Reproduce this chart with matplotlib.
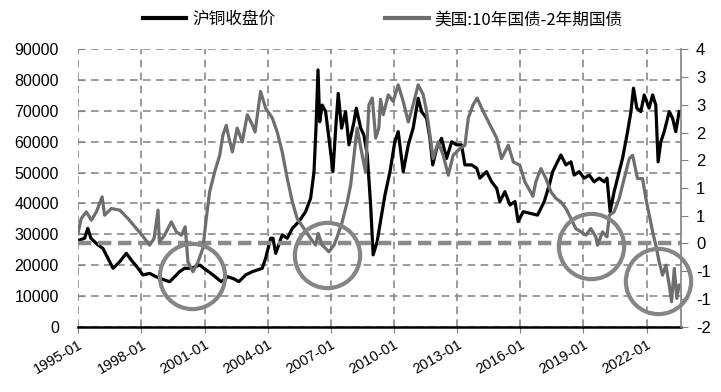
import matplotlib
matplotlib.use("Agg")
import matplotlib.pyplot as plt

plt.rcParams['font.family'] = ['Liberation Sans', 'DejaVu Sans']

# ---- data (decimal years) ----
copper_t = [1995.0, 1995.3, 1995.45, 1995.6, 1995.94, 1996.17, 1996.41, 1996.65, 1996.97, 1997.28,
            1997.52, 1997.84, 1998.07, 1998.39, 1998.7, 1999.1, 1999.34, 1999.58, 1999.81, 2000.05,
            2000.37, 2000.77, 2001.08, 2001.4, 2001.79, 2002.11, 2002.4, 2002.63, 2002.95, 2003.27,
            2003.74, 2003.9, 2004.14, 2004.25, 2004.38, 2004.69, 2004.93, 2005.17, 2005.48, 2005.8,
            2006.04, 2006.2, 2006.3, 2006.39, 2006.47, 2006.59, 2006.75, 2006.91, 2007.1, 2007.23,
            2007.35, 2007.51, 2007.7, 2007.86, 2008.1, 2008.21, 2008.42, 2008.57, 2008.73, 2008.89,
            2009.01, 2009.2, 2009.33, 2009.57, 2009.81, 2010.04, 2010.2, 2010.44, 2010.68, 2010.91,
            2011.15, 2011.31, 2011.55, 2011.71, 2011.84, 2012.03, 2012.26, 2012.5, 2012.74, 2012.98,
            2013.21, 2013.37, 2013.69, 2013.93, 2014.08, 2014.4, 2014.64, 2014.88, 2015.03, 2015.27,
            2015.51, 2015.75, 2015.9, 2016.14, 2016.46, 2016.82, 2017.14, 2017.38, 2017.54, 2017.77,
            2017.93, 2018.17, 2018.41, 2018.56, 2018.8, 2019.04, 2019.28, 2019.51, 2019.75, 2019.99,
            2020.12, 2020.27, 2020.46, 2020.7, 2020.86, 2021.1, 2021.26, 2021.38, 2021.54, 2021.73,
            2021.89, 2022.12, 2022.29, 2022.44, 2022.55, 2022.68, 2022.84, 2023.08, 2023.24, 2023.39,
            2023.55]
copper_v = [28000, 28700, 31900, 28700, 26500, 25400, 22200, 18950, 21100, 23800,
            21600, 18950, 16800, 17300, 16200, 15150, 14600, 16200, 17850, 18950,
            18950, 20000, 18400, 16800, 14600, 16200, 15500, 14600, 16800, 17850,
            18950, 22200, 28700, 28700, 23800, 29800, 28700, 31900, 34100, 37300,
            41700, 50300, 65500, 83300, 66500, 71900, 69800, 61100, 50300, 64400,
            75700, 64400, 69800, 59000, 66500, 70900, 64400, 62200, 55700, 39500,
            23300, 27600, 33000, 42700, 50300, 60000, 63300, 50300, 59000, 64400,
            74100, 69800, 67600, 61100, 52500, 57900, 61100, 54600, 60000, 59000,
            59000, 52500, 52500, 51400, 48200, 50300, 47000, 44900, 40600, 43800,
            39500, 40600, 34100, 37300, 36800, 36200, 40600, 46000, 50300, 53500,
            55700, 52500, 53500, 49200, 50300, 48200, 49200, 47000, 48200, 47000,
            48200, 37300, 43800, 50300, 54600, 63300, 69800, 77400, 70900, 69800,
            75200, 70900, 75200, 71900, 53500, 60000, 63300, 69800, 67600, 63300,
            69800]

spread_t = [1995.0, 1995.14, 1995.38, 1995.62, 1995.86, 1996.13, 1996.25, 1996.57, 1996.97, 1997.36,
            1997.76, 1998.15, 1998.39, 1998.6, 1998.79, 1998.85, 1999.1, 1999.42, 1999.66, 1999.9,
            2000.08, 2000.21, 2000.45, 2000.69, 2000.92, 2001.08, 2001.24, 2001.48, 2001.72, 2001.87,
            2002.03, 2002.16, 2002.32, 2002.55, 2002.79, 2003.03, 2003.27, 2003.4, 2003.66, 2003.9,
            2004.22, 2004.45, 2004.69, 2004.93, 2005.17, 2005.4, 2005.72, 2006.04, 2006.28, 2006.4,
            2006.59, 2006.91, 2007.15, 2007.3, 2007.54, 2007.78, 2007.94, 2008.1, 2008.25, 2008.49,
            2008.65, 2008.81, 2008.97, 2009.13, 2009.28, 2009.36, 2009.49, 2009.73, 2009.96, 2010.2,
            2010.44, 2010.68, 2010.91, 2011.15, 2011.39, 2011.55, 2011.71, 2011.86, 2012.1, 2012.34,
            2012.58, 2012.81, 2013.13, 2013.37, 2013.53, 2013.76, 2013.95, 2014.24, 2014.56, 2014.88,
            2015.11, 2015.43, 2015.67, 2015.98, 2016.22, 2016.46, 2016.6, 2016.74, 2016.98, 2017.22,
            2017.46, 2017.7, 2017.93, 2018.17, 2018.41, 2018.64, 2018.88, 2019.12, 2019.35, 2019.59,
            2019.67, 2019.91, 2020.12, 2020.23, 2020.46, 2020.7, 2020.94, 2021.18, 2021.34, 2021.57,
            2021.81, 2021.97, 2022.13, 2022.29, 2022.44, 2022.6, 2022.76, 2022.92, 2023.08, 2023.19,
            2023.32, 2023.44, 2023.55]
spread_v = [0.21, 0.45, 0.57, 0.42, 0.57, 0.84, 0.51, 0.63, 0.60, 0.45,
            0.27, 0.09, -0.03, 0.09, 0.60, 0.03, 0.15, 0.39, 0.21, 0.15,
            0.30, -0.33, -0.51, -0.33, -0.09, 0.45, 0.93, 1.29, 1.59, 1.95,
            2.13, 1.90, 1.65, 2.08, 1.83, 2.32, 2.14, 2.01, 2.74, 2.44,
            2.26, 2.01, 1.65, 1.17, 0.75, 0.45, 0.27, 0.09, -0.03, 0.18,
            -0.03, -0.15, -0.03, 0.12, 0.39, 0.75, 1.05, 1.59, 2.08, 1.59,
            1.29, 2.50, 2.62, 1.90, 2.08, 2.60, 2.32, 2.68, 2.56, 2.86,
            2.56, 2.19, 2.50, 2.86, 2.68, 2.38, 1.95, 1.53, 1.83, 1.59,
            1.23, 1.59, 1.71, 1.77, 2.26, 2.50, 2.62, 2.38, 2.14, 1.90,
            1.53, 1.77, 1.47, 1.41, 1.11, 0.95, 0.85, 1.11, 1.35, 1.17,
            0.93, 0.81, 0.75, 0.63, 0.45, 0.27, 0.21, 0.15, 0.27, 0.12,
            -0.03, 0.21, 0.12, 0.51, 0.57, 0.81, 1.17, 1.53, 1.59, 1.17,
            1.17, 0.81, 0.51, 0.21, -0.03, -0.33, -0.57, -0.39, -0.75, -1.05,
            -0.45, -0.99, -0.75]

xtick_years = [1995, 1998, 2001, 2004, 2007, 2010, 2013, 2016, 2019, 2022]
xtick_labels = ['1995-01', '1998-01', '2001-01', '2004-01', '2007-01',
                '2010-01', '2013-01', '2016-01', '2019-01', '2022-01']
left_ticks = [0, 10000, 20000, 30000, 40000, 50000, 60000, 70000, 80000, 90000]
right_ticks = [-1.5, -1.0, -0.5, 0.0, 0.5, 1.0, 1.5, 2.0, 2.5, 3.0, 3.5]
right_labels = ['-2', '-1', '-1', '0', '1', '1', '2', '2', '3', '3', '4']

# highlighted circles (year, spread value)
circle_t = [2000.39, 2006.8, 2019.34, 2022.55]
circle_v = [-0.58, -0.21, -0.04, -0.67]

label_copper = '沪铜收盘价'
label_spread = '美国:10年国债-2年期国债'

GRID = '#808080'

fig = plt.figure(figsize=(7.21, 3.92), dpi=100)
ax = fig.add_axes([0.1086, 0.1666, 0.8354, 0.7076])
ax2 = ax.twinx()

ax.set_xlim(1995.0, 2023.62)
ax.set_ylim(0, 90000)
ax2.set_ylim(-1.5, 3.5)

ax.set_yticks(left_ticks)
ax.set_xticks(xtick_years)
ax.grid(True, color=GRID, linestyle=(0, (5, 3.5)), linewidth=1.1)
ax.set_axisbelow(True)

ln1, = ax.plot(copper_t, copper_v, color='black', linewidth=2.3, zorder=3)
ax.set_zorder(2)
ax.patch.set_visible(False)
ax2.set_zorder(3)

ax2.axhline(0, color='#8a8a8a', linewidth=3.2, linestyle=(0, (3, 1.5)), zorder=1)
ln2, = ax2.plot(spread_t, spread_v, color='#6e6e6e', linewidth=2.3, zorder=2)
ax2.plot(circle_t, circle_v, 'o', markersize=47, markerfacecolor='none',
         markeredgecolor='#858585', markeredgewidth=3.0, clip_on=False, zorder=4)

for a in (ax, ax2):
    a.spines['top'].set_visible(False)
    a.spines['left'].set_visible(False)
ax.spines['right'].set_visible(False)
ax2.spines['right'].set_color(GRID)
ax2.spines['right'].set_linewidth(1.2)
ax.spines['bottom'].set_color('black')
ax.spines['bottom'].set_linewidth(1.8)
ax2.spines['bottom'].set_visible(False)

ax.set_yticklabels([f'{v:d}' for v in left_ticks], fontsize=11.5)
ax.tick_params(axis='y', direction='in', length=4, color=GRID, pad=14)
ax.set_xticklabels(xtick_labels, fontsize=10.5, rotation=30, ha='right',
                   rotation_mode='anchor')
ax.tick_params(axis='x', direction='out', length=4, color=GRID, pad=4)

ax2.set_yticks(right_ticks)
ax2.set_yticklabels(right_labels, fontsize=12)
ax2.tick_params(axis='y', direction='out', length=5, color=GRID, pad=6)

leg = fig.legend([ln1, ln2], [label_copper, label_spread], loc='upper center',
                 bbox_to_anchor=(0.531, 1.01), ncol=2, frameon=False,
                 prop={'family': ['Noto Sans CJK SC', 'DejaVu Sans'], 'size': 12},
                 handlelength=2.6, columnspacing=6.6, handletextpad=0.35)
for h in leg.legend_handles:
    h.set_linewidth(3)

fig.savefig('out.png', dpi=100)
